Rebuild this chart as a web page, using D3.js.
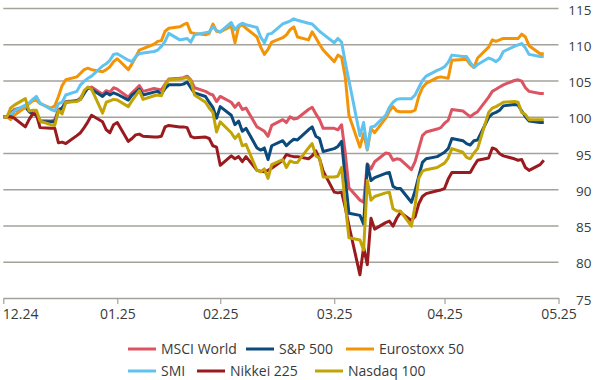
<!DOCTYPE html>
<html>
<head>
<meta charset="utf-8">
<script src="https://cdn.jsdelivr.net/npm/d3@7"></script>
<style>
  html, body { margin: 0; padding: 0; background: #ffffff; }
  svg { display: block; }
  text { font-family: "Open Sans", "Noto Sans", sans-serif; fill: #3a3a3a; }
</style>
</head>
<body>
<svg id="chart" width="600" height="380"></svg>
<script>
// ---------- DATA (indexed, 31.12.2024 = 100; one value per weekday) ----------
const startDate = "2024-12-31";
const endDate = "2025-05-27";

const seriesNames = ["MSCI World", "S&P 500", "Eurostoxx 50", "SMI", "Nikkei 225", "Nasdaq 100"];

const msciWorld = [100,
  100, 100.5, 101.0, 101.4, 100.8, 100.7, 100.5, 99.5, 99.4, 99.6, 101.0, 101.2, 102.1, 102.2, 102.6, 103.4, 103.9, 104.1, 103.1, 103.6, 103.4, 104.0, 103.8,
  102.7, 103.3, 103.8, 104.3, 103.5, 103.9, 103.8, 103.7, 104.5, 105.2, 105.3, 105.4, 105.6, 105.1, 104.0, 103.5, 103.2, 103.0, 102.1, 102.8,
  102.0, 101.3, 101.9, 101.0, 101.2, 98.6, 98.3, 98.0, 97.3, 98.8, 99.6, 99.2, 100.0, 99.7, 99.8, 101.0, 101.3, 100.4, 99.6, 98.4, 98.4,
  98.2, 98.9, 95.0, 90.2, 88.5, 88.2, 93.5, 92.8, 93.8, 95.0, 94.9, 94.0, 94.2, 94.1, 92.7, 93.8, 95.6, 97.4, 97.9, 98.3, 98.5, 99.1,
  99.5, 101.0, 100.8, 100.4, 100.0, 100.4, 100.7, 102.7, 103.5, 103.8, 104.1, 104.4, 105.0, 105.1, 104.9, 104.0, 103.5, 103.2, 103.2];

const sp500 = [100,
  100, 100.2, 100.8, 101.4, 100.7, 100.4, 100.2, 99.3, 99.3, 99.3, 100.8, 101.2, 102.0, 102.2, 102.4, 103.2, 104.0, 103.8, 102.8, 103.3, 103.0, 103.3, 103.1,
  102.3, 103.0, 103.4, 103.8, 103.0, 103.4, 103.5, 103.1, 103.9, 104.4, 104.4, 104.5, 104.8, 104.0, 103.3, 102.8, 102.0, 101.3, 99.8, 101.4,
  100.2, 98.9, 99.4, 98.0, 98.4, 95.7, 95.4, 95.7, 94.1, 96.0, 96.7, 96.0, 96.5, 96.9, 96.8, 98.2, 98.6, 97.3, 97.0, 95.2, 95.6,
  95.9, 96.6, 91.5, 86.7, 86.4, 85.2, 93.4, 91.2, 91.6, 92.2, 92.3, 90.4, 90.1, 90.1, 88.2, 89.8, 91.8, 93.7, 94.2, 94.5, 94.8, 95.1,
  95.6, 97.0, 96.7, 96.3, 96.1, 96.7, 96.8, 99.9, 100.4, 100.6, 100.9, 101.5, 101.7, 101.6, 100.8, 100.0, 99.4, 99.2, 99.2];

const eurostoxx50 = [100,
  100, 99.6, 100.2, 101.3, 101.8, 102.2, 102.3, 101.8, 101.2, 101.5, 102.8, 104.3, 105.1, 105.5, 106.0, 106.5, 106.7, 106.5, 106.2, 106.5, 106.9, 107.6, 108.0,
  106.5, 107.3, 108.2, 109.2, 109.4, 110.0, 110.4, 110.5, 111.8, 112.2, 112.4, 112.7, 112.9, 111.6, 111.5, 111.3, 111.5, 112.8, 111.8, 111.7,
  112.5, 110.2, 112.4, 112.7, 112.2, 111.0, 109.6, 108.6, 109.3, 110.3, 110.9, 111.3, 112.0, 112.4, 111.0, 110.6, 111.7, 110.9, 110.0, 109.2, 107.6,
  108.5, 108.2, 105.5, 100.2, 95.8, 97.7, 95.4, 98.4, 97.8, 99.8, 100.8, 101.4, 100.8, 100.7, 100.7, 100.9, 102.8, 104.0, 104.6, 105.4, 105.5, 105.4,
  105.3, 107.8, 107.9, 107.9, 107.2, 106.8, 108.1, 109.6, 110.6, 110.4, 110.6, 110.8, 110.8, 110.8, 111.4, 111.0, 109.8, 108.7, 108.7];

const smi = [100,
  100, 100.3, 100.8, 101.6, 101.9, 102.4, 102.8, 101.9, 101.0, 100.8, 101.8, 102.0, 103.0, 103.5, 104.4, 104.9, 105.3, 105.6, 107.0, 107.3, 107.8, 108.6, 108.7,
  107.8, 107.6, 108.3, 108.7, 108.8, 109.0, 109.2, 109.7, 110.4, 111.5, 110.6, 110.7, 110.8, 110.3, 111.3, 111.6, 111.7, 112.4, 111.9, 111.7,
  113.0, 112.0, 112.6, 112.9, 112.7, 112.3, 111.0, 110.2, 111.4, 111.5, 112.8, 113.0, 113.2, 113.5, 113.3, 112.9, 112.8, 112.3, 111.8, 111.4, 110.2,
  110.8, 110.3, 107.5, 105.0, 97.4, 99.2, 95.5, 98.6, 98.7, 100.2, 101.3, 102.0, 102.4, 102.5, 102.5, 103.0, 104.0, 105.0, 105.6, 106.4, 106.6, 106.9,
  107.5, 108.5, 108.3, 108.3, 107.5, 106.8, 107.2, 108.1, 107.9, 107.6, 108.0, 109.0, 109.7, 109.9, 110.1, 109.5, 108.6, 108.3, 108.3];

const nikkei225 = [100,
  100, 100, 99.8, 98.6, 99.6, 100.4, 100.3, 98.5, 98.4, 98.4, 96.4, 96.5, 96.3, 97.4, 97.8, 98.5, 99.3, 100.2, 99.3, 98.2, 97.8, 98.9, 99.2,
  96.6, 97.0, 97.5, 97.6, 97.3, 97.2, 97.2, 97.3, 98.6, 98.8, 98.6, 98.6, 98.5, 97.3, 97.1, 97.2, 97.0, 96.0, 95.8, 93.3,
  94.6, 94.2, 94.5, 93.8, 94.5, 92.6, 92.5, 92.4, 92.6, 92.9, 94.0, 94.8, 94.6, 94.5, 94.5, 94.2, 94.6, 95.3, 94.2, 92.5, 89.6,
  89.5, 89.6, 87.5, 85.0, 78.2, 82.0, 79.6, 86.0, 84.5, 85.4, 85.6, 84.9, 86.0, 86.8, 85.7, 86.2, 88.0, 89.0, 89.4, 89.8, 89.9, 90.1,
  91.4, 92.3, 92.3, 92.3, 92.3, 93.2, 94.0, 94.3, 95.7, 95.5, 94.9, 94.6, 94.2, 94.0, 94.1, 93.0, 92.6, 93.4, 94.0];

const nasdaq100 = [100,
  100, 101.2, 101.6, 102.5, 100.8, 100.9, 100.9, 99.4, 98.9, 98.8, 100.9, 100.4, 102.0, 102.1, 102.4, 103.6, 104.1, 103.8, 100.5, 102.0, 102.2, 102.4, 102.3,
  101.4, 102.2, 102.9, 103.6, 102.4, 102.9, 103.0, 102.9, 104.4, 105.1, 105.2, 105.3, 105.4, 105.0, 103.0, 102.0, 101.2, 100.6, 97.9, 99.3,
  97.8, 97.0, 97.6, 96.0, 96.2, 92.6, 92.4, 92.8, 91.5, 93.4, 94.1, 93.0, 93.9, 93.7, 93.7, 95.7, 96.3, 94.6, 94.3, 91.7, 91.7,
  91.8, 93.0, 88.0, 83.3, 83.0, 81.6, 91.2, 88.5, 89.0, 89.5, 89.6, 87.3, 87.0, 87.0, 84.9, 87.8, 91.5, 92.5, 92.7, 93.0, 93.3, 93.6,
  94.3, 95.6, 95.1, 94.4, 94.2, 95.0, 95.6, 100.6, 101.2, 101.4, 101.7, 102.0, 102.1, 102.0, 100.6, 100.3, 99.6, 99.6, 99.6];

const xTickDates = ["2024-12-31", "2025-01-31", "2025-02-28", "2025-03-31", "2025-04-30", "2025-05-31"];
const yTicks = [75, 80, 85, 90, 95, 100, 105, 110, 115];

const seriesColors = ["#dc5462", "#0c4a7c", "#f39406", "#60c3ef", "#9a1b1f", "#c3a406"];

// ---------- BUILD ----------
(function () {
const parse = d3.utcParse("%Y-%m-%d");
const dates = d3.utcDays(parse(startDate), d3.utcDay.offset(parse(endDate), 1))
  .filter(d => d.getUTCDay() !== 0 && d.getUTCDay() !== 6);

const allValues = [msciWorld, sp500, eurostoxx50, smi, nikkei225, nasdaq100];
const series = seriesNames.map((name, i) => ({
  name, color: seriesColors[i],
  points: allValues[i].map((v, j) => ({ date: dates[j], value: v }))
}));

const svg = d3.select("#chart");
const pLeft = 3.3, pRight = 558.5, pTop = 8, pBottom = 298;

const x = d3.scaleUtc()
  .domain([parse(xTickDates[0]), parse(xTickDates[xTickDates.length - 1])])
  .range([pLeft, pRight]);
const y = d3.scaleLinear().domain([75, 115]).range([pBottom, pTop]);

const gridColor = "#a5a29a";

// y axis with gridlines (labels on the right)
const yAxis = svg.append("g")
  .attr("transform", `translate(${pRight},0)`)
  .call(d3.axisRight(y).tickValues(yTicks).tickSize(-(pRight - pLeft)).tickPadding(9).tickFormat(d3.format("d")));
yAxis.select(".domain").remove();
yAxis.selectAll(".tick line").attr("stroke", gridColor).attr("stroke-width", 1.5)
  .attr("display", d => d === 75 ? "none" : null);
yAxis.selectAll(".tick text").attr("font-size", 13.5).attr("fill", "#3a3a3a")
  .attr("text-anchor", "end").attr("x", 33).attr("dy", "0.45em");

// x axis
const xAxis = svg.append("g")
  .attr("transform", `translate(0,${pBottom})`)
  .call(d3.axisBottom(x).tickValues(xTickDates.map(parse)).tickSize(6).tickSizeOuter(0)
    .tickPadding(5).tickFormat(d3.utcFormat("%m.%y")));
xAxis.select(".domain").attr("stroke", gridColor).attr("stroke-width", 1.5);
xAxis.selectAll(".tick line").attr("stroke", gridColor).attr("stroke-width", 1.2);
xAxis.selectAll(".tick text").attr("font-size", 14).attr("fill", "#3a3a3a");
xAxis.selectAll(".tick text").filter((d, i) => i === 0).attr("text-anchor", "start").attr("x", -1);

// lines
const line = d3.line().x(d => x(d.date)).y(d => y(d.value)).curve(d3.curveLinear);
svg.append("g").selectAll("path").data(series).join("path")
  .attr("fill", "none")
  .attr("stroke", d => d.color)
  .attr("stroke-width", 3)
  .attr("stroke-linejoin", "round")
  .attr("d", d => line(d.points));

// legend
const legendPos = [[128, 349], [246, 349], [346, 349], [128, 371], [197, 371], [315, 371]];
const legend = svg.append("g").selectAll("g").data(series).join("g")
  .attr("transform", (d, i) => `translate(${legendPos[i][0]},${legendPos[i][1]})`);
legend.append("line").attr("x1", 0).attr("x2", 28).attr("y1", 0).attr("y2", 0)
  .attr("stroke", d => d.color).attr("stroke-width", 3);
legend.append("text").attr("x", 33).attr("y", 0).attr("dy", "0.35em")
  .attr("font-size", 14).text(d => d.name);
})();
</script>
</body>
</html>
